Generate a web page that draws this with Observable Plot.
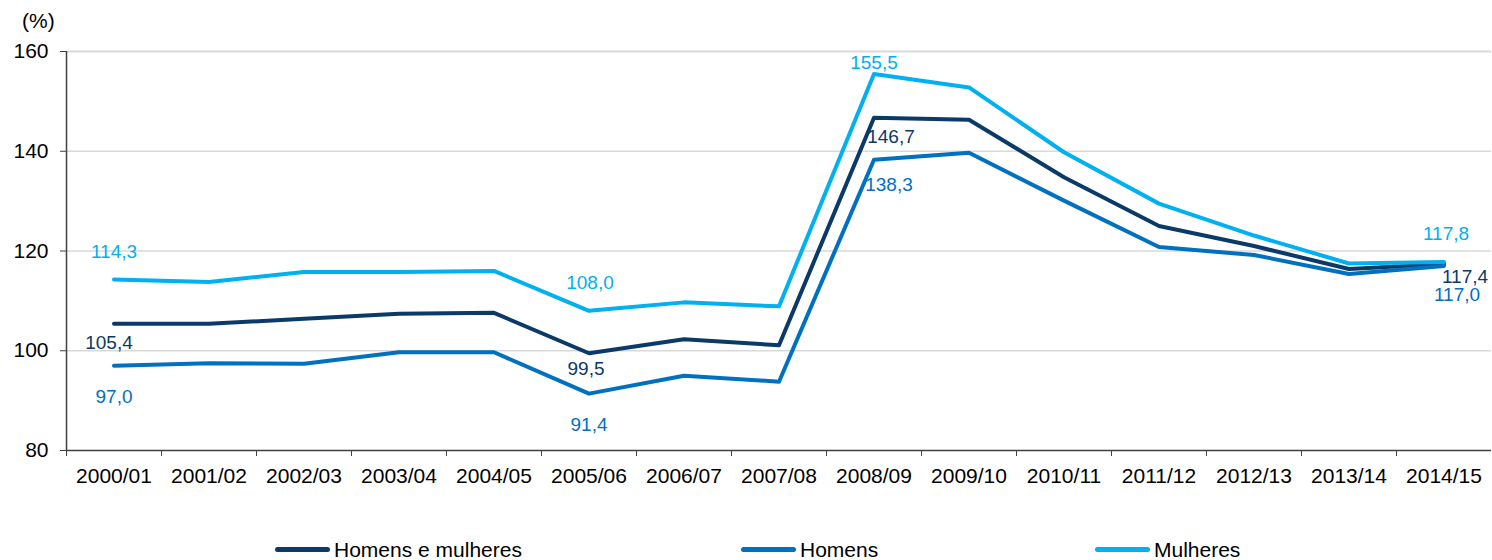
<!DOCTYPE html>
<html><head><meta charset="utf-8">
<script src="https://cdn.jsdelivr.net/npm/d3@7"></script>
<script src="https://cdn.jsdelivr.net/npm/@observablehq/plot@0.6"></script>
<style>
body{margin:0;background:#fff;font-family:Arial,"Liberation Sans",sans-serif;}
#wrap{position:relative;width:1492px;height:560px;overflow:hidden;background:#fff;}
#unit{position:absolute;left:22px;top:10px;font-size:21px;line-height:21px;color:#000;}
.item{position:absolute;top:539px;display:flex;align-items:center;font-size:21px;line-height:21px;color:#000;white-space:nowrap;}
.sw{width:55px;height:5px;border-radius:3px;margin-right:4px;}
</style></head><body>
<div id="wrap"><div id="chart"></div><div id="unit">(%)</div><div id="legend"></div></div>
<script>
const categories = ["2000/01","2001/02","2002/03","2003/04","2004/05","2005/06","2006/07","2007/08","2008/09","2009/10","2010/11","2011/12","2012/13","2013/14","2014/15"];
const seriesNames = ["Homens e mulheres","Homens","Mulheres"];
const valuesHM = [105.4,105.4,106.4,107.4,107.6,99.5,102.3,101.1,146.7,146.3,134.8,125.0,121.0,116.4,117.4];
const valuesH  = [97.0,97.5,97.4,99.7,99.7,91.4,95.0,93.8,138.3,139.7,130.1,120.8,119.2,115.4,117.0];
const valuesM  = [114.3,113.8,115.8,115.8,116.0,108.0,109.7,108.9,155.5,152.8,139.8,129.5,123.1,117.5,117.8];
const yTicks = [80,100,120,140,160];
const labeledCategories = ["2000/01","2005/06","2008/09","2014/15"];

// styles
const seriesColors = ["#0b3a68","#0070c0","#00b0f0"];
const labelOffsets = {
  "Homens e mulheres": {"2000/01":[-5,19],"2005/06":[-3,16],"2008/09":[17,19],"2014/15":[21,13]},
  "Homens":            {"2000/01":[0,31],"2005/06":[0,31],"2008/09":[15,25],"2014/15":[13,29]},
  "Mulheres":          {"2000/01":[0,-28],"2005/06":[1,-28],"2008/09":[0,-11],"2014/15":[2,-28]}
};

const seriesValues = [valuesHM, valuesH, valuesM];
const rows = [];
seriesNames.forEach((s, si) => categories.forEach((c, ci) => rows.push({series: s, category: c, value: seriesValues[si][ci]})));
const labels = rows.filter(r => labeledCategories.includes(r.category));
const fmt = v => v.toFixed(1).replace(".", ",");

const width = 1492, height = 500, marginLeft = 66, marginRight = 1;
const bw = (width - marginLeft - marginRight) / categories.length;
const font = "Arial, 'Liberation Sans', sans-serif";

const chart = Plot.plot({
  width, height, marginTop: 51, marginBottom: 50, marginLeft, marginRight,
  style: {fontFamily: font, fontSize: "21px", color: "#000", background: "#fff"},
  x: {type: "band", domain: categories, padding: 0},
  y: {domain: [80, 160]},
  color: {domain: seriesNames, range: seriesColors},
  marks: [
    Plot.ruleY(yTicks.filter(t => t > 80 && t < 160), {stroke: "#d9d9d9", strokeWidth: 1.5}),
    Plot.ruleY([160], {stroke: "#d9d9d9", strokeWidth: 2}),
    Plot.axisY({ticks: yTicks, tickSize: 6, tickPadding: 12, label: null, stroke: "#404040", fill: "#000", fontSize: 21}),
    Plot.axisX({tickSize: 0, tickPadding: 18, label: null, fill: "#000", fontSize: 21}),
    Plot.axisX({tickSize: 6, tickFormat: () => "", label: null, dx: -bw / 2, stroke: "#404040"}),
    Plot.ruleY([80], {stroke: "#404040", strokeWidth: 1.5}),
    Plot.ruleX([categories[0]], {dx: -bw / 2, y1: 80, y2: 160, stroke: "#404040", strokeWidth: 1.5}),
    Plot.line(rows, {x: "category", y: "value", z: "series", stroke: "series", strokeWidth: 4}),
    ...labels.map(l => Plot.text([l], {
      x: "category", y: "value", text: d => fmt(d.value), fill: "series",
      dx: labelOffsets[l.series][l.category][0], dy: labelOffsets[l.series][l.category][1],
      fontSize: 19
    }))
  ]
});
document.getElementById("chart").appendChild(chart);

const legendLefts = [275, 741, 1095];
const legend = document.getElementById("legend");
seriesNames.forEach((s, i) => {
  const it = document.createElement("div");
  it.className = "item";
  it.style.left = legendLefts[i] + "px";
  const sw = document.createElement("div");
  sw.className = "sw";
  sw.style.background = seriesColors[i];
  const tx = document.createElement("span");
  tx.textContent = s;
  it.appendChild(sw); it.appendChild(tx);
  legend.appendChild(it);
});
</script>
</body></html>
